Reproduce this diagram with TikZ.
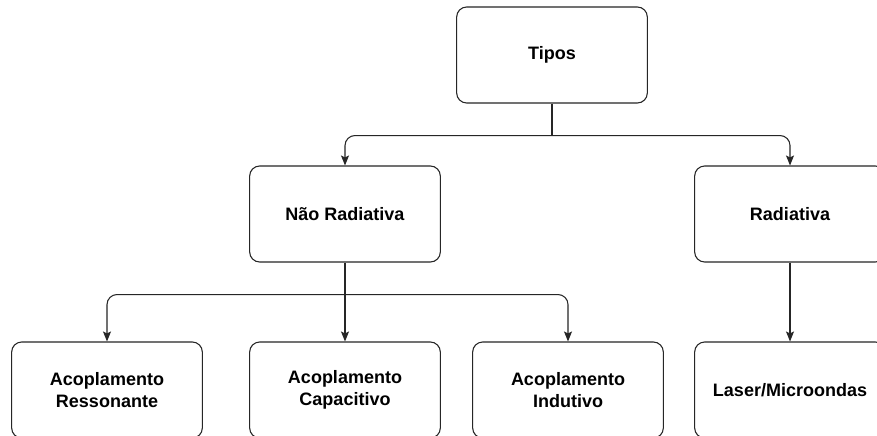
\documentclass[tikz,border=0pt]{standalone}
\usepackage{fontspec}
\setmainfont{Liberation Sans}
\usetikzlibrary{arrows.meta}
\begin{document}
\begin{tikzpicture}[x=0.75pt,y=-0.75pt,
  box/.style={draw=black!85, line width=0.8pt, fill=white, rounded corners=7.5pt,
    minimum width=143pt, minimum height=72pt, inner sep=0pt, align=center,
    font=\bfseries\fontsize{13.5}{16.5}\selectfont},
  wire/.style={draw=black!85, line width=0.8pt},
  link/.style={wire, rounded corners=7.5pt,
    -{Stealth[length=7.5pt,width=6pt,inset=1.5pt]}}
]
\useasboundingbox (0,0) rectangle (877,435);
\clip (0,0) rectangle (877,435);
\fill[white] (0,0) rectangle (877,435);
\node[box] (tipos) at (552,55) {Tipos};
\node[box] (nao) at (345,214) {Não Radiativa};
\node[box] (rad) at (790,214) {Radiativa};
\node[box] (res) at (107,390) {Acoplamento\\Ressonante};
\node[box] (cap) at (345,390) {Acoplamento\\Capacitivo};
\node[box] (ind) at (568,390) {Acoplamento\\Indutivo};
\node[box] (las) at (790,390) {Laser/Microondas};
\coordinate (j1) at ([yshift=-32*0.75pt]tipos.south);
\coordinate (j2) at ([yshift=-32*0.75pt]nao.south);
\draw[wire] (tipos.south) -- (j1);
\draw[link] (j1) -| (nao.north);
\draw[link] (j1) -| (rad.north);
\draw[link] (j2) -| (res.north);
\draw[link] (nao.south) -- (cap.north);
\draw[link] (j2) -| (ind.north);
\draw[link] (rad.south) -- (las.north);
\end{tikzpicture}
\end{document}
